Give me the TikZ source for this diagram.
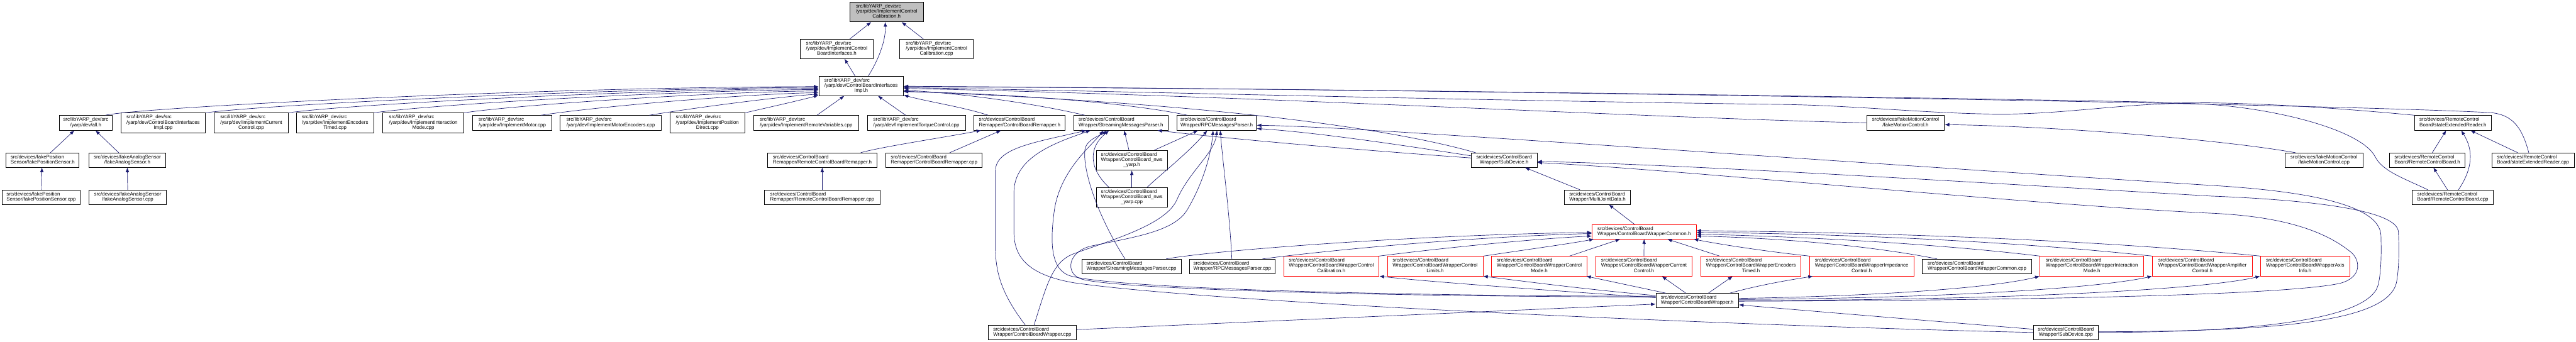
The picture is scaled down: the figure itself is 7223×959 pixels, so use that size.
\documentclass[tikz,border=0pt]{standalone}
\usepackage{fontspec}
\setmainfont{Liberation Sans}
\usetikzlibrary{arrows.meta,calc}
\definecolor{eblue}{HTML}{191970}
\definecolor{nred}{HTML}{FF0000}
\definecolor{topgray}{HTML}{BFBFBF}
\newcommand{\nlab}[2]{\begin{tabular}{@{}l@{}}#1\\\multicolumn{1}{@{}c@{}}{#2}\end{tabular}}
\begin{document}
\begin{tikzpicture}[x=1pt,y=-1pt,font=\fontsize{14}{14.5}\selectfont,
  nbox/.style={draw=black,line width=1.5pt,fill=white,inner sep=0pt,rectangle},
  rbox/.style={nbox,draw=nred},
  sz/.style 2 args={minimum width=#1pt,minimum height=#2pt},
  dep/.style={draw=eblue,line width=1.2pt,-{Latex[length=13pt,width=10pt]}}]
\useasboundingbox (0,0) rectangle (7223,959);
% rank 0-2
\node[nbox,fill=topgray,sz={206}{55}] (n0) at (2486,33.5) {\nlab{src/libYARP\_dev/src\\/yarp/dev/ImplementControl}{Calibration.h}};
\node[nbox,sz={206}{54}] (i1a) at (2346,137) {\nlab{src/libYARP\_dev/src\\/yarp/dev/ImplementControl}{BoardInterfaces.h}};
\node[nbox,sz={206}{54}] (i1b) at (2626,137) {\nlab{src/libYARP\_dev/src\\/yarp/dev/ImplementControl}{Calibration.cpp}};
\node[nbox,sz={237}{54}] (cbiih) at (2414.5,241) {\nlab{src/libYARP\_dev/src\\/yarp/dev/ControlBoardInterfaces}{Impl.h}};
% rank 3
\node[nbox,sz={147}{41}] (allh) at (240.5,344.5) {\nlab{src/libYARP\_dev/src}{/yarp/dev/all.h}};
\node[nbox,sz={237}{55}] (cbiicpp) at (457.5,344.5) {\nlab{src/libYARP\_dev/src\\/yarp/dev/ControlBoardInterfaces}{Impl.cpp}};
\node[nbox,sz={207}{55}] (icc) at (704.5,344.5) {\nlab{src/libYARP\_dev/src\\/yarp/dev/ImplementCurrent}{Control.cpp}};
\node[nbox,sz={217}{55}] (iet) at (939.5,344.5) {\nlab{src/libYARP\_dev/src\\/yarp/dev/ImplementEncoders}{Timed.cpp}};
\node[nbox,sz={228}{55}] (iim) at (1187,344.5) {\nlab{src/libYARP\_dev/src\\/yarp/dev/ImplementInteraction}{Mode.cpp}};
\node[nbox,sz={223}{41}] (imot) at (1436.5,344.5) {\nlab{src/libYARP\_dev/src}{/yarp/dev/ImplementMotor.cpp}};
\node[nbox,sz={283}{41}] (imenc) at (1712.5,344.5) {\nlab{src/libYARP\_dev/src}{/yarp/dev/ImplementMotorEncoders.cpp}};
\node[nbox,sz={211}{55}] (ipd) at (1983.5,344.5) {\nlab{src/libYARP\_dev/src\\/yarp/dev/ImplementPosition}{Direct.cpp}};
\node[nbox,sz={295}{41}] (irv) at (2260.5,344.5) {\nlab{src/libYARP\_dev/src}{/yarp/dev/ImplementRemoteVariables.cpp}};
\node[nbox,sz={275}{41}] (itc) at (2569.5,344.5) {\nlab{src/libYARP\_dev/src}{/yarp/dev/ImplementTorqueControl.cpp}};
\node[nbox,sz={256}{41}] (cbrh) at (2859,344.5) {\nlab{src/devices/ControlBoard}{Remapper/ControlBoardRemapper.h}};
\node[nbox,sz={264}{41}] (smph) at (3143,344.5) {\nlab{src/devices/ControlBoard}{Wrapper/StreamingMessagesParser.h}};
\node[nbox,sz={223}{41}] (rpch) at (3411.5,344.5) {\nlab{src/devices/ControlBoard}{Wrapper/RPCMessagesParser.h}};
\node[nbox,sz={218}{41}] (fmch) at (5343,344.5) {\nlab{src/devices/fakeMotionControl}{/fakeMotionControl.h}};
\node[nbox,sz={214}{41}] (serh) at (6878,344.5) {\nlab{src/devices/RemoteControl}{Board/stateExtendedReader.h}};
% rank 4
\node[nbox,sz={205}{40}] (fpsh) at (119.5,449) {\nlab{src/devices/fakePosition}{Sensor/fakePositionSensor.h}};
\node[nbox,sz={216}{40}] (fash) at (357,449) {\nlab{src/devices/fakeAnalogSensor}{/fakeAnalogSensor.h}};
\node[nbox,sz={307}{40}] (rcbrh) at (2305.5,449) {\nlab{src/devices/ControlBoard}{Remapper/RemoteControlBoardRemapper.h}};
\node[nbox,sz={270}{40}] (cbrcpp) at (2619,449) {\nlab{src/devices/ControlBoard}{Remapper/ControlBoardRemapper.cpp}};
\node[nbox,sz={199}{55}] (nwsh) at (3173.5,449.5) {\nlab{src/devices/ControlBoard\\Wrapper/ControlBoard\_nws}{\_yarp.h}};
\node[nbox,sz={185}{40}] (sdh) at (4217.5,449) {\nlab{src/devices/ControlBoard}{Wrapper/SubDevice.h}};
\node[nbox,sz={218}{40}] (fmccpp) at (6516,449) {\nlab{src/devices/fakeMotionControl}{/fakeMotionControl.cpp}};
\node[nbox,sz={212}{40}] (rcbh) at (6806,449) {\nlab{src/devices/RemoteControl}{Board/RemoteControlBoard.h}};
\node[nbox,sz={231}{40}] (sercpp) at (7102.5,449) {\nlab{src/devices/RemoteControl}{Board/stateExtendedReader.cpp}};
% rank 5
\node[nbox,sz={219}{40}] (fpscpp) at (115.5,553) {\nlab{src/devices/fakePosition}{Sensor/fakePositionSensor.cpp}};
\node[nbox,sz={216}{40}] (fascpp) at (358,553) {\nlab{src/devices/fakeAnalogSensor}{/fakeAnalogSensor.cpp}};
\node[nbox,sz={323}{40}] (rcbrcpp) at (2305.5,553) {\nlab{src/devices/ControlBoard}{Remapper/RemoteControlBoardRemapper.cpp}};
\node[nbox,sz={199}{55}] (nwscpp) at (3173.5,553.5) {\nlab{src/devices/ControlBoard\\Wrapper/ControlBoard\_nws}{\_yarp.cpp}};
\node[nbox,sz={186}{40}] (mjd) at (4479,553) {\nlab{src/devices/ControlBoard}{Wrapper/MultiJointData.h}};
\node[nbox,sz={227}{40}] (rcbcpp) at (6877.5,553) {\nlab{src/devices/RemoteControl}{Board/RemoteControlBoard.cpp}};
% rank 6
\node[rbox,sz={292}{40}] (cbwch) at (4610,650) {\nlab{src/devices/ControlBoard}{Wrapper/ControlBoardWrapperCommon.h}};
% rank 7
\node[nbox,sz={279}{40}] (smpcpp) at (3172.5,747) {\nlab{src/devices/ControlBoard}{Wrapper/StreamingMessagesParser.cpp}};
\node[nbox,sz={240}{40}] (rpccpp) at (3455,747) {\nlab{src/devices/ControlBoard}{Wrapper/RPCMessagesParser.cpp}};
\node[rbox,sz={268}{55}] (cal) at (3733,746.5) {\nlab{src/devices/ControlBoard\\Wrapper/ControlBoardWrapperControl}{Calibration.h}};
\node[rbox,sz={268}{55}] (lim) at (4024,746.5) {\nlab{src/devices/ControlBoard\\Wrapper/ControlBoardWrapperControl}{Limits.h}};
\node[rbox,sz={268}{55}] (mode) at (4316,746.5) {\nlab{src/devices/ControlBoard\\Wrapper/ControlBoardWrapperControl}{Mode.h}};
\node[rbox,sz={269}{55}] (cur) at (4609.5,746.5) {\nlab{src/devices/ControlBoard\\Wrapper/ControlBoardWrapperCurrent}{Control.h}};
\node[rbox,sz={281}{55}] (enc) at (4909.5,746.5) {\nlab{src/devices/ControlBoard\\Wrapper/ControlBoardWrapperEncoders}{Timed.h}};
\node[rbox,sz={292}{55}] (imp) at (5220,746.5) {\nlab{src/devices/ControlBoard\\Wrapper/ControlBoardWrapperImpedance}{Control.h}};
\node[nbox,sz={307}{40}] (cbwccpp) at (5543.5,747) {\nlab{src/devices/ControlBoard}{Wrapper/ControlBoardWrapperCommon.cpp}};
\node[rbox,sz={291}{55}] (inter) at (5865.5,746.5) {\nlab{src/devices/ControlBoard\\Wrapper/ControlBoardWrapperInteraction}{Mode.h}};
\node[rbox,sz={281}{55}] (amp) at (6175.5,746.5) {\nlab{src/devices/ControlBoard\\Wrapper/ControlBoardWrapperAmplifier}{Control.h}};
\node[rbox,sz={251}{55}] (axis) at (6463.5,746.5) {\nlab{src/devices/ControlBoard\\Wrapper/ControlBoardWrapperAxis}{Info.h}};
% rank 8-9
\node[nbox,sz={232}{40}] (cbwh) at (4759,843) {\nlab{src/devices/ControlBoard}{Wrapper/ControlBoardWrapper.h}};
\node[nbox,sz={247}{41}] (cbwcpp) at (2894.5,932.5) {\nlab{src/devices/ControlBoard}{Wrapper/ControlBoardWrapper.cpp}};
\node[nbox,sz={181}{41}] (sdcpp) at (5792.5,932.5) {\nlab{src/devices/ControlBoard}{Wrapper/SubDevice.cpp}};

% ---- edges: top
\draw[dep] ($(i1a.north)+(37,0)$) -- ($(n0.south)+(-43,0)$);
\draw[dep] ($(i1b.north)+(-37,0)$) -- ($(n0.south)+(42,0)$);
\draw[dep] ($(cbiih.north)+(20,0)$) .. controls (2462,170) and (2484,115) .. ($(n0.south)+(-4,0)$);
\draw[dep] ($(cbiih.north)+(-17,0)$) -- ($(i1a.south)+(22,0)$);
% left rank 3 -> cbiih
\draw[dep] ($(allh.north)+(55,0)$) .. controls (380,302) and (1500,244) .. ($(cbiih.west)+(0,2)$);
\draw[dep] (cbiicpp.north east) .. controls (760,292) and (1700,248) .. ($(cbiih.west)+(0,4)$);
\draw[dep] (icc.north east) .. controls (980,292) and (1800,251) .. ($(cbiih.west)+(0,7)$);
\draw[dep] (iet.north east) .. controls (1220,292) and (1900,254) .. ($(cbiih.west)+(0,10)$);
\draw[dep] (iim.north east) .. controls (1450,294) and (2000,258) .. ($(cbiih.west)+(0,14)$);
\draw[dep] ($(imot.north)+(80,0)$) .. controls (1680,298) and (2100,263) .. ($(cbiih.west)+(0,19)$);
\draw[dep] ($(imenc.north)+(108,0)$) .. controls (1960,300) and (2200,270) .. ($(cbiih.west)+(0,23)$);
\draw[dep] (ipd.north east) .. controls (2160,300) and (2250,280) .. ($(cbiih.west)+(0,26)$);
\draw[dep] ($(irv.north)+(30,0)$) -- ($(cbiih.south)+(-47,0)$);
% right -> cbiih
\draw[dep] ($(itc.north)+(-30,0)$) -- ($(cbiih.south)+(47,0)$);
\draw[dep] ($(cbrh.north)+(-88,0)$) .. controls (2700,300) and (2600,285) .. ($(cbiih.south east)+(0,-2)$);
\draw[dep] ($(smph.north)+(-101,0)$) .. controls (2900,290) and (2700,262) .. ($(cbiih.east)+(0,12)$);
\draw[dep] ($(rpch.north)+(-82,0)$) .. controls (3150,285) and (2800,262) .. ($(cbiih.east)+(0,16)$);
\draw[dep] ($(sdh.north)+(-80,0)$) .. controls (3900,360) and (3400,290) .. ($(cbiih.east)+(0,15)$);
\draw[dep] (fmch.west) .. controls (4600,330) and (3500,268) .. ($(cbiih.east)+(0,7)$);
\draw[dep] ($(rcbcpp.north)+(-70,0)$) .. controls (6740,500) and (6680,480) .. (6660,440) .. controls (6620,360) and (6350,295) .. (6134,290) .. controls (5950,290) and (5780,322) .. (5595,320) .. controls (5400,318) and (5200,296) .. (5000,293) .. controls (4000,280) and (3000,252) .. ($(cbiih.east)+(0,5)$);
\draw[dep] (serh.north west) .. controls (6500,298) and (6300,288) .. (6134,288) .. controls (5500,276) and (4000,250) .. ($(cbiih.east)+(0,2)$);
\draw[dep] ($(sercpp.north)+(-12,0)$) .. controls (7070,350) and (7040,322) .. (6985,316) .. controls (6500,290) and (4000,250) .. ($(cbiih.east)+(0,1)$);
% left cluster
\draw[dep] ($(fpsh.north)+(22,0)$) -- ($(allh.south)+(-32,0)$);
\draw[dep] ($(fash.north)+(-24,0)$) -- ($(allh.south)+(27,0)$);
\draw[dep] ($(fpscpp.north)+(1,0)$) -- ($(fpsh.south)+(-2,0)$);
\draw[dep] (fascpp.north) -- (fash.south);
% remapper
\draw[dep] (rcbrcpp.north) -- (rcbrh.south);
\draw[dep] ($(rcbrh.north)+(108,0)$) .. controls (2470,412) and (2650,385) .. ($(cbrh.south)+(-108,0)$);
\draw[dep] ($(cbrcpp.north)+(44,0)$) -- ($(cbrh.south)+(-52,0)$);
% nws
\draw[dep] ($(nwsh.north)+(-8,0)$) -- ($(smph.south)+(9,0)$);
\draw[dep] ($(nwsh.north)+(63,0)$) -- ($(rpch.south)+(-52,0)$);
\draw[dep] (nwscpp.north) -- (nwsh.south);
\draw[dep] ($(nwscpp.north)+(-64,0)$) .. controls (3060,480) and (3045,420) .. ($(smph.south)+(-33,0)$);
\draw[dep] ($(nwscpp.north)+(43,0)$) .. controls (3265,480) and (3330,430) .. ($(rpch.south)+(-26,0)$);
% streaming / rpc parsers
\draw[dep] ($(smpcpp.north)+(-18,0)$) .. controls (3080,610) and (3035,480) .. (3042,420) .. controls (3046,390) and (3090,378) .. ($(smph.south)+(-40,0)$);
\draw[dep] ($(cbwcpp.north)+(-20,0)$) .. controls (2805,820) and (2791,760) .. (2791,690) -- (2791,480) .. controls (2791,415) and (2900,400) .. ($(smph.south)+(-97,0)$);
\draw[dep] (sdcpp.west) .. controls (4900,915) and (3400,850) .. (3010,793) .. controls (2880,770) and (2843,720) .. (2843,650) -- (2843,540) .. controls (2843,440) and (2960,400) .. ($(smph.south)+(-85,0)$);
\draw[dep] ($(cbwh.west)+(0,-12)$) .. controls (3900,830) and (3150,810) .. (3005,775) .. controls (2945,760) and (2945,680) .. (2955,600) .. controls (2968,480) and (3060,410) .. ($(smph.south)+(-49,0)$);
\draw[dep] ($(cbwh.west)+(0,-10)$) .. controls (3900,832) and (3120,812) .. (3030,782) .. controls (2985,765) and (2995,705) .. (3060,690) .. controls (3180,665) and (3290,650) .. (3328,590) .. controls (3370,520) and (3395,440) .. ($(rpch.south)+(-10,0)$);
\draw[dep] ($(cbwcpp.north)+(5,0)$) .. controls (2935,800) and (2950,735) .. (3010,712) .. controls (3120,672) and (3270,630) .. (3300,560) .. controls (3335,480) and (3405,430) .. ($(rpch.south)+(1,0)$);
\draw[dep] ($(rpccpp.north)+(-1,0)$) .. controls (3448,600) and (3428,450) .. ($(rpch.south)+(10,0)$);
\draw[dep] (sdcpp.east) .. controls (6300,932) and (6640,900) .. (6668,800) .. controls (6678,760) and (6677,700) .. (6676,660) .. controls (6672,570) and (6450,535) .. (6200,520) .. controls (5400,470) and (4200,385) .. (3750,360) .. controls (3650,355) and (3580,352) .. ($(rpch.east)+(0,7)$);
% subdevice
\draw[dep] ($(sdcpp.east)+(0,-2)$) .. controls (6400,930) and (6700,900) .. (6720,790) .. controls (6727,750) and (6727,700) .. (6725,650) .. controls (6720,585) and (6450,560) .. (6200,550) .. controls (5600,515) and (4700,460) .. ($(sdh.east)+(0,4)$);
\draw[dep] ($(cbwh.east)+(0,2)$) .. controls (5800,842) and (6420,825) .. (6560,795) .. controls (6620,780) and (6620,735) .. (6595,710) .. controls (6500,630) and (6350,605) .. (6200,598) .. controls (5700,575) and (4700,475) .. ($(sdh.east)+(0,7)$);
\draw[dep] ($(sdh.west)+(0,-12)$) .. controls (3950,410) and (3700,372) .. ($(rpch.east)+(0,16)$);
\draw[dep] ($(sdh.west)+(0,-6)$) .. controls (3800,420) and (3450,390) .. ($(smph.south)+(102,0)$);
\draw[dep] ($(mjd.north)+(-49,0)$) -- ($(sdh.south)+(58,0)$);
\draw[dep] ($(cbwch.north)+(-27,0)$) -- ($(mjd.south)+(32,0)$);
% into ControlBoardWrapperCommon.h
\draw[dep] ($(smpcpp.north)+(97,0)$) .. controls (3420,700) and (4000,658) .. ($(cbwch.west)+(0,2)$);
\draw[dep] ($(rpccpp.north)+(85,0)$) .. controls (3700,705) and (4100,665) .. ($(cbwch.west)+(0,5)$);
\draw[dep] ($(cal.north)+(134,0)$) .. controls (4050,695) and (4300,670) .. ($(cbwch.west)+(0,12)$);
\draw[dep] ($(lim.north)+(136,0)$) .. controls (4280,700) and (4400,684) .. ($(cbwch.south west)+(6,0)$);
\draw[dep] ($(mode.north)+(85,0)$) -- ($(cbwch.south)+(-67,0)$);
\draw[dep] (cur.north) -- (cbwch.south);
\draw[dep] ($(enc.north)+(-88,0)$) -- ($(cbwch.south)+(65,0)$);
\draw[dep] (imp.north west) .. controls (4950,705) and (4820,685) .. ($(cbwch.south east)+(-8,0)$);
\draw[dep] ($(cbwccpp.north)+(-112,0)$) .. controls (5250,690) and (5000,668) .. ($(cbwch.east)+(0,12)$);
\draw[dep] (inter.north west) .. controls (5400,680) and (5000,662) .. ($(cbwch.east)+(0,7)$);
\draw[dep] (amp.north west) .. controls (5600,672) and (5100,655) .. ($(cbwch.east)+(0,2)$);
\draw[dep] (axis.north west) .. controls (5800,665) and (5100,650) .. ($(cbwch.east)+(0,-3)$);
% out of ControlBoardWrapper.h
\draw[dep] ($(cbwh.west)+(0,-8)$) .. controls (4350,815) and (4000,790) .. (cal.south east);
\draw[dep] ($(cbwh.west)+(0,-14)$) .. controls (4450,812) and (4280,790) .. (lim.south east);
\draw[dep] ($(cbwh.north)+(-88,0)$) -- ($(mode.south east)+(-3,0)$);
\draw[dep] ($(cbwh.north)+(-32,0)$) -- ($(cur.south)+(50,0)$);
\draw[dep] ($(cbwh.north)+(31,0)$) -- ($(enc.south)+(-51,0)$);
\draw[dep] ($(cbwh.north)+(91,0)$) .. controls (4950,795) and (5040,782) .. ($(imp.south west)+(10,0)$);
\draw[dep] ($(cbwh.east)+(0,-6)$) .. controls (5300,830) and (5600,805) .. (inter.south west);
\draw[dep] ($(cbwh.east)+(0,-3)$) .. controls (5500,836) and (5900,805) .. (amp.south west);
\draw[dep] (cbwh.east) .. controls (5700,842) and (6200,808) .. (axis.south west);
\draw[dep] ($(cbwcpp.east)+(0,-8)$) -- ($(cbwh.west)+(0,10)$);
\draw[dep] ($(sdcpp.west)+(0,-9)$) .. controls (5350,895) and (5000,866) .. ($(cbwh.east)+(0,12)$);
% right cluster
\draw[dep] ($(fmccpp.north)+(-80,0)$) .. controls (6250,395) and (5800,355) .. ($(fmch.east)+(0,5)$);
\draw[dep] ($(rcbh.north)+(14,0)$) -- ($(serh.south)+(-19,0)$);
\draw[dep] ($(rcbcpp.north)+(-15,0)$) -- ($(rcbh.south)+(17,0)$);
\draw[dep] ($(rcbcpp.north)+(16,0)$) .. controls (6935,470) and (6935,420) .. ($(serh.south)+(23,0)$);
\draw[dep] ($(sercpp.north)+(-43,0)$) -- ($(serh.south)+(49,0)$);
\end{tikzpicture}
\end{document}
